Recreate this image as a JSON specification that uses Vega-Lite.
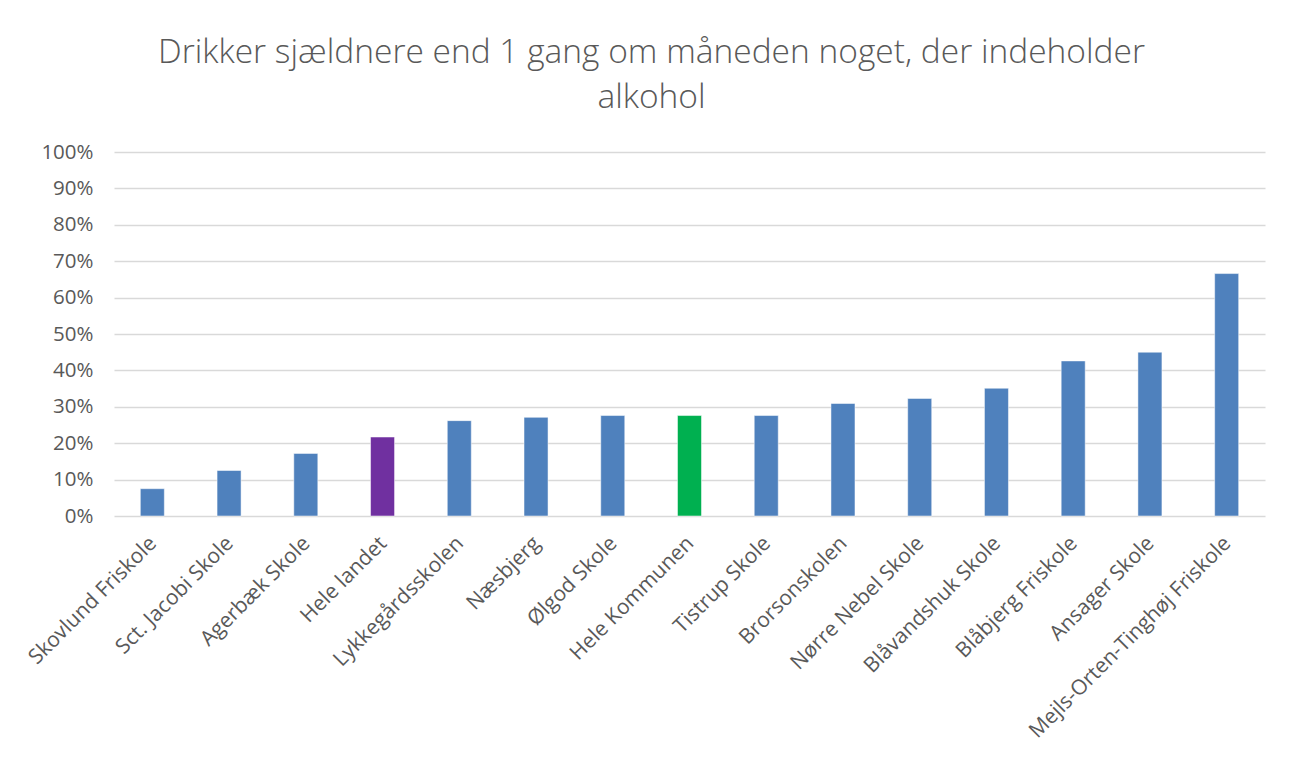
{
  "$schema": "https://vega.github.io/schema/vega-lite/v6.json",
  "autosize": {"type": "none"},
  "width": 1151,
  "height": 364,
  "padding": {"left": 114, "top": 152, "right": 27, "bottom": 246},
  "background": "#ffffff",
  "title": {
    "text": ["Drikker sjældnere end 1 gang om måneden noget, der indeholder", "alkohol"],
    "anchor": "middle",
    "dx": -38,
    "offset": 27,
    "font": "Open Sans",
    "fontSize": 33.5,
    "fontWeight": 300,
    "color": "#595959",
    "lineHeight": 45
  },
  "data": {
    "values": [
      {"skole": "Skovlund Friskole", "andel": 0.075, "type": "skole"},
      {"skole": "Sct. Jacobi Skole", "andel": 0.125, "type": "skole"},
      {"skole": "Agerbæk Skole", "andel": 0.172, "type": "skole"},
      {"skole": "Hele landet", "andel": 0.217, "type": "land"},
      {"skole": "Lykkegårdsskolen", "andel": 0.262, "type": "skole"},
      {"skole": "Næsbjerg", "andel": 0.271, "type": "skole"},
      {"skole": "Ølgod Skole", "andel": 0.276, "type": "skole"},
      {"skole": "Hele Kommunen", "andel": 0.276, "type": "kommune"},
      {"skole": "Tistrup Skole", "andel": 0.276, "type": "skole"},
      {"skole": "Brorsonskolen", "andel": 0.309, "type": "skole"},
      {"skole": "Nørre Nebel Skole", "andel": 0.323, "type": "skole"},
      {"skole": "Blåvandshuk Skole", "andel": 0.351, "type": "skole"},
      {"skole": "Blåbjerg Friskole", "andel": 0.426, "type": "skole"},
      {"skole": "Ansager Skole", "andel": 0.450, "type": "skole"},
      {"skole": "Mejls-Orten-Tinghøj Friskole", "andel": 0.666, "type": "skole"}
    ]
  },
  "mark": {"type": "bar", "stroke": "#ffffff", "strokeOpacity": 0.5, "strokeWidth": 1},
  "encoding": {
    "x": {
      "field": "skole",
      "type": "nominal",
      "sort": null,
      "scale": {"paddingInner": 0.687, "paddingOuter": 0.343},
      "axis": {
        "title": null,
        "labelAngle": -45,
        "labelAlign": "right",
        "labelBaseline": "middle",
        "labelPadding": 24,
        "labelOffset": 1,
        "labelFont": "Open Sans",
        "labelFontSize": 21,
        "labelColor": "#595959",
        "ticks": false,
        "domain": false,
        "labelLimit": 400
      }
    },
    "y": {
      "field": "andel",
      "type": "quantitative",
      "scale": {"domain": [0, 1], "nice": false},
      "axis": {
        "title": null,
        "format": ".0%",
        "values": [0, 0.1, 0.2, 0.3, 0.4, 0.5, 0.6, 0.7, 0.8, 0.9, 1],
        "labelFont": "Open Sans",
        "labelFontSize": 20.5,
        "labelColor": "#595959",
        "labelPadding": 21,
        "ticks": false,
        "domain": false,
        "gridColor": "#d9d9d9",
        "gridWidth": 1.3
      }
    },
    "color": {
      "field": "type",
      "type": "nominal",
      "scale": {"domain": ["skole", "land", "kommune"], "range": ["#4F81BD", "#7030A0", "#00B050"]},
      "legend": null
    }
  },
  "config": {"view": {"stroke": null}}
}
